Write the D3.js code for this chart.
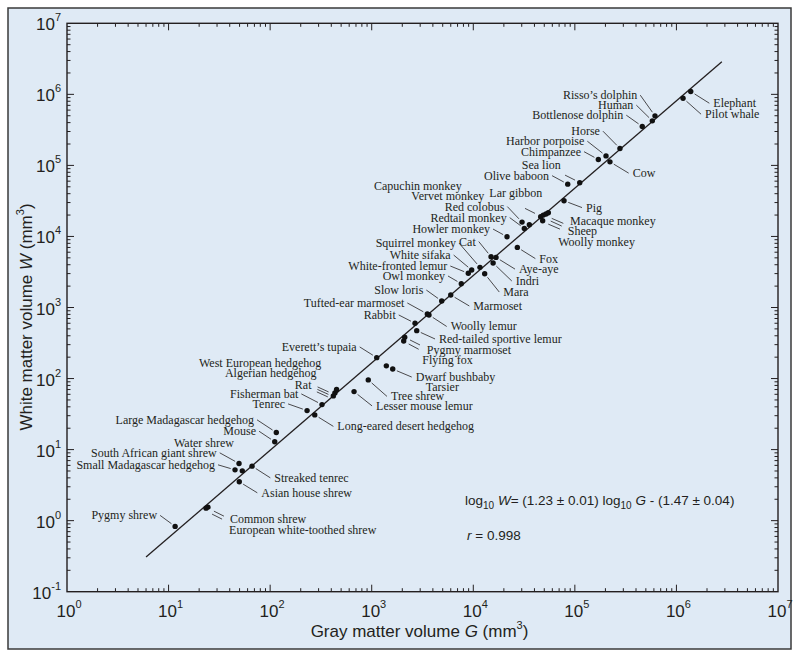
<!DOCTYPE html>
<html><head><meta charset="utf-8">
<script src="https://cdn.jsdelivr.net/npm/d3@7"></script>
<style>html,body{margin:0;padding:0;background:#fff;} svg{display:block;}</style>
</head><body>
<svg id="chart" width="800" height="658"></svg>
<script>
// ---------------- DATA ----------------
const species = [
  "Pygmy shrew","Common shrew","European white-toothed shrew","Asian house shrew",
  "Small Madagascar hedgehog","South African giant shrew","Water shrew","Streaked tenrec",
  "Mouse","Large Madagascar hedgehog","Tenrec","Long-eared desert hedgehog","Fisherman bat",
  "Rat","Algerian hedgehog","West European hedgehog","Lesser mouse lemur","Tree shrew",
  "Everett\u2019s tupaia","Tarsier","Dwarf bushbaby","Flying fox","Pygmy marmoset",
  "Red-tailed sportive lemur","Rabbit","Tufted-ear marmoset","Woolly lemur","Slow loris",
  "Marmoset","Owl monkey","Mara","White-fronted lemur","White sifaka","Squirrel monkey",
  "Cat","Aye-aye","Indri","Fox","Howler monkey","Redtail monkey","Red colobus",
  "Vervet monkey","Capuchin monkey","Lar gibbon","Woolly monkey","Sheep","Macaque monkey",
  "Pig","Olive baboon","Sea lion","Chimpanzee","Harbor porpoise","Cow","Horse",
  "Bottlenose dolphin","Human","Risso\u2019s dolphin","Pilot whale","Elephant"
];
// gray matter volume G (mm^3)
const grayMatter = [
  11.6, 24.4, 23.4, 49.7,
  45.1, 49.4, 53.2, 66.3,
  111, 115, 231, 275, 324,
  419, 434, 451, 670, 925,
  1120, 1393, 1610, 2065, 2113,
  2774, 2669, 3527, 3664, 4889,
  5998, 7620, 12950, 8933, 9640, 11640,
  14960, 16740, 15670, 27150, 21490, 31800, 30200,
  35630, 46100, 48900, 48200, 52000, 54800,
  78200, 85100, 111700, 170300, 202700, 221600, 278000,
  461000, 579000, 615000, 1162000, 1383000
];
// white matter volume W (mm^3)
const whiteMatter = [
  0.83, 1.55, 1.50, 3.52,
  5.19, 6.37, 5.02, 5.85,
  12.9, 17.4, 35.4, 30.8, 43,
  57, 62.8, 70.3, 65.5, 95.7,
  197, 151, 136, 338, 381,
  472, 600, 811, 785, 1233,
  1500, 2163, 2985, 3027, 3365, 3675,
  5176, 5072, 4228, 7015, 9900, 12970, 15920,
  14590, 18920, 19990, 16600, 20650, 21540,
  31770, 54450, 56860, 121100, 136100, 112200, 173000,
  353000, 424000, 498000, 883000, 1096000
];
const xTickExponents = [0,1,2,3,4,5,6,7];
const yTickExponents = [-1,0,1,2,3,4,5,6,7];
const fitSlope = 1.23, fitIntercept = -1.47;
const fitDomainG = [6, 2.8e6];
const xTitle = ["Gray matter volume ", "G", " (mm", "3", ")"];
const yTitle = ["White matter volume ", "W", " (mm", "3", ")"];

// ---------------- LAYOUT (label offsets from each point, px) ----------------
// [dx, dy, anchor, leader]  leader: undefined = auto, null = none, [x1,y1,x2,y2] offsets
const labelLayout = [
  [-18,-7,"end"], [22,16,"start",[6,4,16,9]], [23,26,"start",[6,6,16,11]], [22,15,"start"],
  [-20,-1,"end"], [-22.3,-6.7,"end"], [-8.3,-24,"end",null], [22.3,15.7,"start"],
  [-18.7,-6.5,"end"], [-22.3,-8.7,"end"], [-22,-2.7,"end"], [22.6,15.5,"start"], [-23.7,-6.7,"end"],
  [-21.8,-7,"end",[-16.5,-4,-5.5,1]], [-18.3,-16,"end",[-17.5,-3.5,-6.5,1.5]], [-15.3,-22.5,"end",[-19,-2.5,-8,2.5]],
  [22,18.3,"start"], [22.7,20.5,"start"],
  [-20,-6.7,"end"], [39.4,25.5,"start",null], [23,12,"start"], [18.6,23.5,"start",[5,3,15,8.3]], [22,16.7,"start",[5.3,2.7,15.3,7.7]],
  [22.3,12.3,"start"], [-19.3,-4.3,"end"], [-23,-7,"end"], [21.7,15.5,"start"], [-18.4,-7,"end"],
  [22.6,15,"start"], [-16.3,-3.7,"end"], [18.6,22.3,"start"], [-21,-3.3,"end"], [-21,-11,"end"], [-24,-20.3,"end"],
  [-15.3,-11.2,"end"], [23,15.7,"start"], [22.7,22,"start"], [22,15.2,"start"], [-17,-3.7,"end"], [-17.6,-6.8,"end"], [-17.7,-11.5,"end"],
  [-45,-24.7,"end",null], [-79,-26.7,"end",null], [-54,-18,"start",[-18.3,-6.7,-8.3,-1.7]], [15.6,24.8,"start",[5.6,3.3,17.3,8.3]], [21.7,21,"start",[4.7,7,15.7,12]], [21.7,11.8,"start",[3.4,5.6,15,10.6]],
  [22,10.8,"start"], [-18.7,-4.5,"end"], [-19,-13.7,"end",[-14.7,-7.7,-4.7,-2.7]], [-17.3,-3.8,"end"], [-21.7,-10.7,"end"], [22.7,15.3,"start"], [-20,-13.3,"end"],
  [-19,-7.3,"end"], [-19,-11.7,"end"], [-17.7,-16.7,"end"], [22,20,"start"], [22.6,15.7,"start"]
];

// ---------------- DRAW ----------------
const svg = d3.select("#chart");
const INK = "#231f20";
const SANS = "'Liberation Sans', Arial, Helvetica, sans-serif";
const SERIF = "'Liberation Serif', 'Times New Roman', serif";

svg.append("rect").attr("x",8).attr("y",8).attr("width",783).attr("height",641)
  .attr("fill","#dfeaf5").attr("stroke","#3a3a3a").attr("stroke-width",1.5);

const X0 = 67, X1 = 778, Y0 = 23.3, Y1 = 591.7;
const x = d3.scaleLog().domain([Math.pow(10,xTickExponents[0]), Math.pow(10,xTickExponents[xTickExponents.length-1])]).range([X0,X1]);
const y = d3.scaleLog().domain([Math.pow(10,yTickExponents[0]), Math.pow(10,yTickExponents[yTickExponents.length-1])]).range([Y1,Y0]);

function minorVals(exps){
  const out=[];
  for(let i=0;i<exps.length-1;i++) for(let k=2;k<=9;k++) out.push(k*Math.pow(10,exps[i]));
  return out;
}
const xMajor = xTickExponents.map(e=>Math.pow(10,e));
const yMajor = yTickExponents.map(e=>Math.pow(10,e));
const xMinor = minorVals(xTickExponents), yMinor = minorVals(yTickExponents);

const axG = svg.append("g").attr("stroke",INK).attr("stroke-width",1);
const MAJ = 7, MIN = 3.5;
function tickSet(vals, len){
  vals.forEach(v=>{
    const px = x(v);
    axG.append("line").attr("x1",px).attr("x2",px).attr("y1",Y1).attr("y2",Y1-len);
    axG.append("line").attr("x1",px).attr("x2",px).attr("y1",Y0).attr("y2",Y0+len);
  });
}
function tickSetY(vals, len){
  vals.forEach(v=>{
    const py = y(v);
    axG.append("line").attr("x1",X0).attr("x2",X0+len).attr("y1",py).attr("y2",py);
    axG.append("line").attr("x1",X1).attr("x2",X1-len).attr("y1",py).attr("y2",py);
  });
}
tickSet(xMajor.slice(1,-1), MAJ); tickSet(xMinor, MIN);
tickSetY(yMajor.slice(1,-1), MAJ); tickSetY(yMinor, MIN);

svg.append("rect").attr("x",X0).attr("y",Y0).attr("width",X1-X0).attr("height",Y1-Y0)
  .attr("fill","none").attr("stroke",INK).attr("stroke-width",1.4);

// tick labels
xTickExponents.forEach(e=>{
  const t = svg.append("text").attr("x",x(Math.pow(10,e))+2).attr("y",Y1+25)
    .attr("text-anchor","middle").attr("font-family",SANS).attr("font-size",17).attr("fill",INK);
  t.append("tspan").text("10");
  t.append("tspan").attr("font-size",11).attr("dy",-9).text(e);
});
yTickExponents.forEach(e=>{
  const t = svg.append("text").attr("x",X0-6).attr("y",y(Math.pow(10,e))+7)
    .attr("text-anchor","end").attr("font-family",SANS).attr("font-size",17).attr("fill",INK);
  t.append("tspan").text("10");
  t.append("tspan").attr("font-size",11).attr("dy",-9).text(e);
});

// axis titles
function title(parts, attrs){
  const t = svg.append("text").attr("font-family",SANS).attr("font-size",17).attr("fill",INK).attr("text-anchor","middle");
  Object.entries(attrs).forEach(([k,v])=>t.attr(k,v));
  t.append("tspan").text(parts[0]);
  t.append("tspan").attr("font-style","italic").text(parts[1]);
  t.append("tspan").text(parts[2]);
  t.append("tspan").attr("font-size",11).attr("dy",-8).text(parts[3]);
  t.append("tspan").attr("dy",8).text(parts[4]);
}
title(xTitle, {x:(X0+X1)/2 - 3, y:637});
title(yTitle, {transform:"translate(31.5,317) rotate(-90)"});

// regression line
const fitLine = d3.line().x(d=>x(d)).y(d=>y(Math.pow(10, fitSlope*Math.log10(d)+fitIntercept)));
svg.append("path").datum(fitDomainG).attr("d",fitLine).attr("fill","none").attr("stroke",INK).attr("stroke-width",1.3);

// data
const pts = species.map((s,i)=>({name:s, px:x(grayMatter[i]), py:y(whiteMatter[i]), lay:labelLayout[i]}));

const leaderG = svg.append("g").attr("stroke",INK).attr("stroke-width",0.8);
pts.forEach(p=>{
  const [dx,dy,anc,ld] = p.lay;
  if (ld === null) return;
  let seg;
  if (Array.isArray(ld)) seg = [p.px+ld[0], p.py+ld[1], p.px+ld[2], p.py+ld[3]];
  else {
    const sx = p.px+dx + (anc==="end"?3:-4), sy = p.py+dy-4;
    const vx = p.px-sx, vy = p.py-sy, L = Math.hypot(vx,vy);
    seg = [sx, sy, p.px - vx/L*4.5, p.py - vy/L*4.5];
  }
  leaderG.append("line").attr("x1",seg[0]).attr("y1",seg[1]).attr("x2",seg[2]).attr("y2",seg[3]);
});

svg.append("g").selectAll("circle").data(pts).join("circle")
  .attr("cx",d=>d.px).attr("cy",d=>d.py).attr("r",2.7).attr("fill","#111");

svg.append("g").selectAll("text").data(pts).join("text")
  .attr("x",d=>d.px+d.lay[0]).attr("y",d=>d.py+d.lay[1])
  .attr("text-anchor",d=>d.lay[2]).attr("font-family",SERIF).attr("font-size",12).attr("fill",INK)
  .text(d=>d.name);

// equation
const eq = svg.append("text").attr("x",465).attr("y",505).attr("font-family",SANS).attr("font-size",13.5).attr("fill",INK);
eq.append("tspan").text("log");
eq.append("tspan").attr("font-size",10).attr("dy",4).text("10");
eq.append("tspan").attr("dy",-4).text(" ");
eq.append("tspan").attr("font-style","italic").text("W");
eq.append("tspan").text("= (1.23 \u00b1 0.01) log");
eq.append("tspan").attr("font-size",10).attr("dy",4).text("10");
eq.append("tspan").attr("dy",-4).text(" ");
eq.append("tspan").attr("font-style","italic").text("G");
eq.append("tspan").text(" - (1.47 \u00b1 0.04)");

const rr = svg.append("text").attr("x",467).attr("y",540).attr("font-family",SANS).attr("font-size",13.5).attr("fill",INK);
rr.append("tspan").attr("font-style","italic").text("r");
rr.append("tspan").text(" = 0.998");
</script>
</body></html>
